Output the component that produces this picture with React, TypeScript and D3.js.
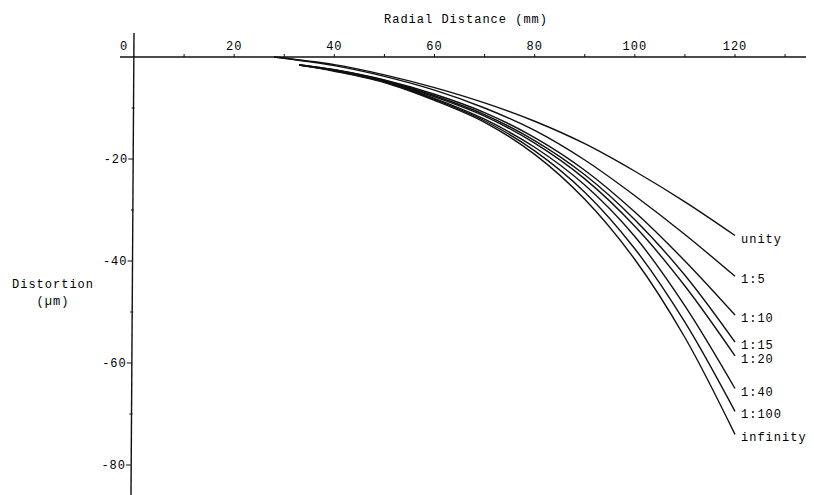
import React from "react";
import * as d3 from "d3";

const seriesNames = ["unity", "1:5", "1:10", "1:15", "1:20", "1:40", "1:100", "infinity"];
const radiusUpper = [28, 40, 50, 60, 70, 80, 90, 100, 110, 120];
const radiusLower = [33, 40, 50, 60, 70, 80, 90, 100, 110, 120];
const unity = [0, -1.5, -3.5, -6, -9, -12.6, -17, -22.4, -28.4, -35];
const r1to5 = [0, -1.7, -3.8, -6.5, -10, -14.4, -20.2, -27.2, -34.8, -43];
const r1to10 = [-1.5, -2.5, -4.5, -7.3, -10.9, -15.8, -22.2, -30.4, -40, -50.6];
const r1to15 = [-1.5, -2.5, -4.6, -7.6, -11.3, -16.4, -23.1, -31.9, -42.8, -55.9];
const r1to20 = [-1.6, -2.6, -4.7, -7.8, -11.6, -16.9, -23.9, -33.2, -44.9, -58.6];
const r1to40 = [-1.6, -2.6, -4.8, -8.1, -12.2, -17.7, -25.1, -35.2, -48.8, -65];
const r1to100 = [-1.6, -2.7, -4.9, -8.3, -12.5, -18.4, -26.5, -37.6, -52, -69.5];
const infinity = [-1.6, -2.8, -5, -8.5, -12.8, -19.1, -27.9, -39.7, -55, -74];
const xTicks = [0, 20, 40, 60, 80, 100, 120];
const xMinorTicks = [10, 30, 50, 70, 90, 110, 130];
const yTicks = [-20, -40, -60, -80];
const yMinorTicks = [-10, -30, -50, -70];

const allValues = [unity, r1to5, r1to10, r1to15, r1to20, r1to40, r1to100, infinity];

export default function App() {
  const W = 814, H = 495;
  const x = d3.scaleLinear().domain([0, 120]).range([134, 735]);
  const y = d3.scaleLinear().domain([0, -80]).range([57, 465]);
  const font = "'Liberation Mono', 'DejaVu Sans Mono', monospace";
  const line = d3
    .line<[number, number]>()
    .x((d) => x(d[0]))
    .y((d) => y(d[1]))
    .curve(d3.curveCatmullRom.alpha(0.5));
  const textStyle: React.CSSProperties = { fontFamily: font, fontSize: 12, letterSpacing: 1, fill: "#000" };
  return (
    <svg width={W} height={H} style={{ position: "absolute", left: 0, top: 0, background: "#fff" }}>
      <rect width={W} height={H} fill="#fff" />
      {/* axes */}
      <line x1={120} x2={806} y1={y(0)} y2={y(0)} stroke="#111" strokeWidth={1.4} />
      <line x1={x(0)} x2={x(0) - 3} y1={33} y2={H} stroke="#111" strokeWidth={1.4} />
      {xTicks.concat(xMinorTicks).filter((t) => t > 0).map((t) => (
        <line key={"xt" + t} x1={x(t)} x2={x(t)} y1={y(0)} y2={y(0) - 3} stroke="#111" strokeWidth={1} />
      ))}
      {xTicks.map((t) => (
        <text key={"xl" + t} x={t === 0 ? x(0) - 10 : x(t)} y={50} textAnchor="middle" style={textStyle}>
          {t}
        </text>
      ))}
      {yTicks.map((t) => (
        <g key={"yt" + t}>
          <line x1={x(0) - 5 - (-t / 80) * 3} x2={x(0) - (-t / 80) * 3} y1={y(t)} y2={y(t)} stroke="#111" strokeWidth={1} />
          <text x={x(0) - 5 - (-t / 80) * 3} y={y(t) + 4} textAnchor="end" style={textStyle}>
            {t}
          </text>
        </g>
      ))}
      {yMinorTicks.map((t) => (
        <line key={"ym" + t} x1={x(0) - 2 - (-t / 80) * 3} x2={x(0) + 1 - (-t / 80) * 3} y1={y(t)} y2={y(t)} stroke="#111" strokeWidth={1} />
      ))}
      <text x={466} y={23} textAnchor="middle" style={textStyle}>Radial Distance (mm)</text>
      <text x={53} y={288} textAnchor="middle" style={textStyle}>Distortion</text>
      <text x={53} y={305} textAnchor="middle" style={textStyle}>(µm)</text>
      {/* curves */}
      {allValues.map((vals, i) => {
        const rs = i < 2 ? radiusUpper : radiusLower;
        const pts: [number, number][] = rs.map((r, j) => [r, vals[j]]);
        const last = pts[pts.length - 1];
        return (
          <g key={seriesNames[i]}>
            <path d={line(pts) || ""} fill="none" stroke="#111" strokeWidth={1.4} />
            <text x={x(last[0]) + 6} y={y(last[1]) + 7} style={textStyle}>
              {seriesNames[i]}
            </text>
          </g>
        );
      })}
    </svg>
  );
}
